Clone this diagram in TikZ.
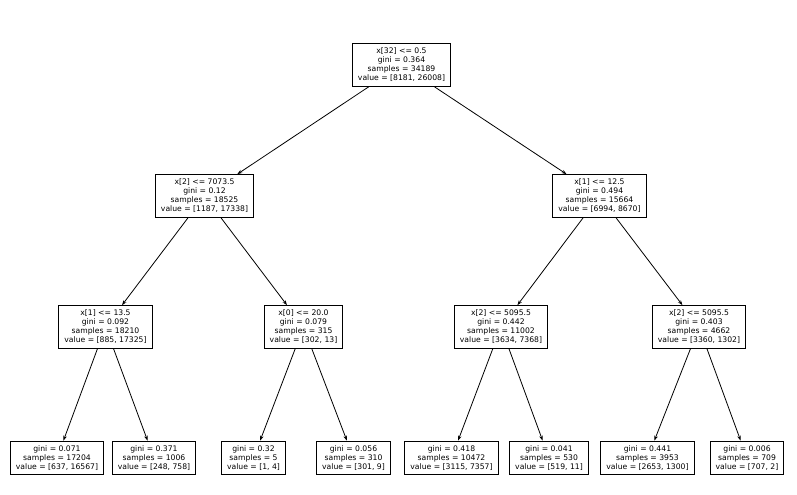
\documentclass[tikz,border=0pt]{standalone}
\usepackage{fontspec}
\setmainfont{DejaVu Sans}
\usetikzlibrary{arrows.meta}

\begin{document}
\begin{tikzpicture}[x=1bp, y=-1bp,
                      box/.style={draw, line width=0.9bp, align=center, inner xsep=5.5bp, inner ysep=4.5bp,
                                  font=\fontsize{7.7}{9}\selectfont},
                      edge/.style={-{Stealth[length=5bp, width=3.5bp]}, line width=0.8bp}]
                      \useasboundingbox (0, 0) rectangle (797, 495);

                      \node[box] (root) at (401.5, 65) {x[32] <= 0.5\\gini = 0.364\\samples = 34189\\value = [8181, 26008]};

                      \node[box] (l) at (204.5, 196) {x[2] <= 7073.5\\gini = 0.12\\samples = 18525\\value = [1187, 17338]};
                      \node[box] (r) at (599.5, 196) {x[1] <= 12.5\\gini = 0.494\\samples = 15664\\value = [6994, 8670]};

                      \node[box] (ll) at (105.5, 327) {x[1] <= 13.5\\gini = 0.092\\samples = 18210\\value = [885, 17325]};
                      \node[box] (lr) at (303.5, 327) {x[0] <= 20.0\\gini = 0.079\\samples = 315\\value = [302, 13]};
                      \node[box] (rl) at (501, 327) {x[2] <= 5095.5\\gini = 0.442\\samples = 11002\\value = [3634, 7368]};
                      \node[box] (rr) at (699, 327) {x[2] <= 5095.5\\gini = 0.403\\samples = 4662\\value = [3360, 1302]};

                      \node[box] (lll) at (57, 458) {gini = 0.071\\samples = 17204\\value = [637, 16567]};
                      \node[box] (llr) at (154, 458) {gini = 0.371\\samples = 1006\\value = [248, 758]};
                      \node[box] (lrl) at (253.5, 458) {gini = 0.32\\samples = 5\\value = [1, 4]};
                      \node[box] (lrr) at (353.5, 458) {gini = 0.056\\samples = 310\\value = [301, 9]};
                      \node[box] (rll) at (451.5, 458) {gini = 0.418\\samples = 10472\\value = [3115, 7357]};
                      \node[box] (rlr) at (549, 458) {gini = 0.041\\samples = 530\\value = [519, 11]};
                      \node[box] (rrl) at (647.5, 458) {gini = 0.441\\samples = 3953\\value = [2653, 1300]};
                      \node[box] (rrr) at (747, 458) {gini = 0.006\\samples = 709\\value = [707, 2]};

                      \draw[edge] (root) -- (l);
                      \draw[edge] (root) -- (r);
                      \draw[edge] (l) -- (ll);
                      \draw[edge] (l) -- (lr);
                      \draw[edge] (r) -- (rl);
                      \draw[edge] (r) -- (rr);
                      \draw[edge] (ll) -- (lll);
                      \draw[edge] (ll) -- (llr);
                      \draw[edge] (lr) -- (lrl);
                      \draw[edge] (lr) -- (lrr);
                      \draw[edge] (rl) -- (rll);
                      \draw[edge] (rl) -- (rlr);
                      \draw[edge] (rr) -- (rrl);
                      \draw[edge] (rr) -- (rrr);
                  \end{tikzpicture}
\end{document}
